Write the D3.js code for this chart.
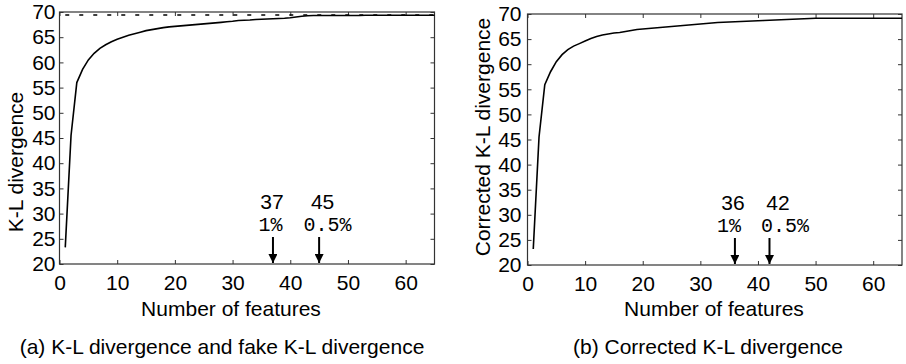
<!DOCTYPE html>
<html>
<head>
<meta charset="utf-8">
<script src="https://cdn.jsdelivr.net/npm/d3@7"></script>
<style>
  body { margin: 0; background: #fff; }
  svg text { font-family: 'Liberation Sans', Arial, Helvetica, sans-serif; fill: #000; }
  .mono { font-family: 'Liberation Mono', 'Courier New', monospace !important; }
</style>
</head>
<body>
<div id="chart"></div>
<script>
const WIDTH = 906;
const HEIGHT = 364;

// number of selected features (x)
const features = [
  1, 2, 3, 4, 5, 6, 7, 8, 9, 10, 11, 12, 13,
  14, 15, 16, 17, 18, 19, 20, 21, 22, 23, 24, 25, 26,
  27, 28, 29, 30, 31, 32, 33, 34, 35, 36, 37, 38, 39,
  40, 41, 42, 43, 44, 45, 46, 47, 48, 49, 50, 51, 52,
  53, 54, 55, 56, 57, 58, 59, 60, 61, 62, 63, 64, 65
];

// (a) K-L divergence
const klDivergence = [
  23.3, 45.5, 56.0, 58.6, 60.5, 61.8, 62.8, 63.5, 64.1, 64.6, 65.0, 65.4, 65.7,
  66.0, 66.3, 66.5, 66.7, 66.9, 67.05, 67.15, 67.25, 67.35, 67.45, 67.55, 67.65, 67.75,
  67.85, 67.95, 68.05, 68.15, 68.3, 68.35, 68.4, 68.5, 68.55, 68.6, 68.65, 68.7, 68.75,
  68.85, 69.0, 69.15, 69.25, 69.3, 69.3, 69.3, 69.3, 69.3, 69.3, 69.3, 69.3, 69.3,
  69.35, 69.35, 69.35, 69.35, 69.35, 69.35, 69.35, 69.35, 69.35, 69.35, 69.35, 69.35, 69.35
];

// (a) fake K-L divergence (dotted)
const fakeKlDivergence = [
  69.4, 69.4, 69.4, 69.4, 69.4, 69.4, 69.4, 69.4, 69.4, 69.4, 69.4, 69.4, 69.4,
  69.4, 69.4, 69.4, 69.4, 69.4, 69.4, 69.4, 69.4, 69.4, 69.4, 69.4, 69.4, 69.4,
  69.4, 69.4, 69.4, 69.4, 69.4, 69.4, 69.4, 69.4, 69.4, 69.4, 69.4, 69.4, 69.4,
  69.4, 69.4, 69.4, 69.4, 69.4, 69.4, 69.4, 69.4, 69.4, 69.4, 69.4, 69.4, 69.4,
  69.4, 69.4, 69.4, 69.4, 69.4, 69.4, 69.4, 69.4, 69.4, 69.4, 69.4, 69.4, 69.4
];

// (b) corrected K-L divergence
const correctedKl = [
  23.2, 45.5, 55.9, 58.5, 60.5, 61.9, 62.9, 63.6, 64.1, 64.6, 65.1, 65.5, 65.8,
  66.0, 66.2, 66.3, 66.5, 66.7, 66.9, 67.0, 67.1, 67.2, 67.3, 67.4, 67.5, 67.6,
  67.7, 67.8, 67.9, 68.0, 68.1, 68.2, 68.3, 68.35, 68.4, 68.45, 68.5, 68.55, 68.6,
  68.65, 68.7, 68.75, 68.8, 68.85, 68.9, 68.95, 69.0, 69.05, 69.1, 69.15, 69.15, 69.15,
  69.15, 69.15, 69.15, 69.15, 69.15, 69.15, 69.15, 69.15, 69.15, 69.15, 69.15, 69.15, 69.15
];

// threshold markers
const markersA = [{ x: 37, count: '37', pct: '1%' }, { x: 45, count: '45', pct: '0.5%' }];
const markersB = [{ x: 36, count: '36', pct: '1%' }, { x: 42, count: '42', pct: '0.5%' }];

const xTicks = [0, 10, 20, 30, 40, 50, 60];
const yTicks = [20, 25, 30, 35, 40, 45, 50, 55, 60, 65, 70];

const svg = d3.select('#chart').append('svg')
  .attr('width', WIDTH)
  .attr('height', HEIGHT);

svg.append('defs').append('marker')
  .attr('id', 'head')
  .attr('viewBox', '0 0 10 10')
  .attr('refX', 10).attr('refY', 5)
  .attr('markerWidth', 9).attr('markerHeight', 9)
  .attr('markerUnits', 'userSpaceOnUse')
  .attr('orient', 'auto')
  .append('path')
  .attr('d', 'M0,0 L10,5 L0,10 Z')
  .attr('fill', '#000');

function drawPanel(p) {
  const x = d3.scaleLinear().domain([0, 65]).range([p.left, p.right]);
  const y = d3.scaleLinear().domain([20, 70]).range([p.bottom, p.top]);
  const g = svg.append('g');

  // box with inward ticks on all sides
  const styleAxis = sel => {
    sel.select('.domain').remove();
    sel.selectAll('.tick line').attr('stroke', '#333');
    sel.selectAll('text').style('font-size', '21px').attr('fill', '#000');
  };
  g.append('g').attr('transform', `translate(0,${p.bottom})`)
    .call(d3.axisBottom(x).tickValues(xTicks).tickSizeInner(-4).tickSizeOuter(0).tickPadding(11))
    .call(styleAxis);
  g.append('g').attr('transform', `translate(0,${p.top})`)
    .call(d3.axisTop(x).tickValues(xTicks).tickSizeInner(-4).tickSizeOuter(0).tickFormat(''))
    .call(styleAxis);
  g.append('g').attr('transform', `translate(${p.left},0)`)
    .call(d3.axisLeft(y).tickValues(yTicks).tickSizeInner(-4).tickSizeOuter(0).tickPadding(p.yPad))
    .call(styleAxis);
  g.append('g').attr('transform', `translate(${p.right},0)`)
    .call(d3.axisRight(y).tickValues(yTicks).tickSizeInner(-4).tickSizeOuter(0).tickFormat(''))
    .call(styleAxis);

  g.append('rect')
    .attr('x', p.left).attr('y', p.top)
    .attr('width', p.right - p.left).attr('height', p.bottom - p.top)
    .attr('fill', 'none').attr('stroke', '#333').attr('stroke-width', 1.2);

  const line = d3.line()
    .x((d, i) => x(features[i]))
    .y(d => y(d));

  p.series.forEach(s => {
    g.append('path')
      .datum(s.values)
      .attr('d', line)
      .attr('fill', 'none')
      .attr('stroke', '#000')
      .attr('stroke-width', 1.6)
      .attr('stroke-dasharray', s.dash || null);
  });

  // arrows and labels
  p.markers.forEach((m, i) => {
    const off = p.labelOffsets[i];
    g.append('line')
      .attr('x1', x(m.x)).attr('x2', x(m.x))
      .attr('y1', p.bottom - 27).attr('y2', p.bottom - 1)
      .attr('stroke', '#000').attr('stroke-width', 2)
      .attr('marker-end', 'url(#head)');
    g.append('text')
      .attr('x', x(m.x) + off[0]).attr('y', p.bottom - 55)
      .attr('text-anchor', 'middle')
      .style('font-size', '21px')
      .text(m.count);
    g.append('text')
      .attr('class', 'mono')
      .attr('x', x(m.x) + off[1]).attr('y', p.bottom - 33)
      .attr('text-anchor', 'middle')
      .style('font-size', '20px')
      .text(m.pct);
  });

  g.append('text')
    .attr('x', p.xLabelX).attr('y', 316)
    .attr('text-anchor', 'middle')
    .style('font-size', '21px')
    .text('Number of features');

  g.append('text')
    .attr('transform', `translate(${p.yLabelX},${p.yLabelY}) rotate(-90)`)
    .attr('text-anchor', 'middle')
    .style('font-size', '21px')
    .text(p.yLabel);

  g.append('text')
    .attr('x', p.captionX).attr('y', 354)
    .attr('text-anchor', 'middle')
    .style('font-size', '21px')
    .text(p.caption);
}

drawPanel({
  left: 59.5, right: 434.5, top: 12, bottom: 264, yPad: 4,
  series: [
    { values: fakeKlDivergence, dash: '4,10' },
    { values: klDivergence }
  ],
  markers: markersA,
  labelOffsets: [[-1, -2.5], [3.5, 8.5]],
  xLabelX: 231,
  yLabel: 'K-L divergence', yLabelX: 23, yLabelY: 162,
  caption: '(a) K-L divergence and fake K-L divergence', captionX: 222
});

drawPanel({
  left: 527.5, right: 902, top: 14, bottom: 265, yPad: 6,
  series: [{ values: correctedKl }],
  markers: markersB,
  labelOffsets: [[-2, -6], [8.5, 15.5]],
  xLabelX: 714,
  yLabel: 'Corrected K-L divergence', yLabelX: 490, yLabelY: 137,
  caption: '(b) Corrected K-L divergence', captionX: 708
});
</script>
</body>
</html>
